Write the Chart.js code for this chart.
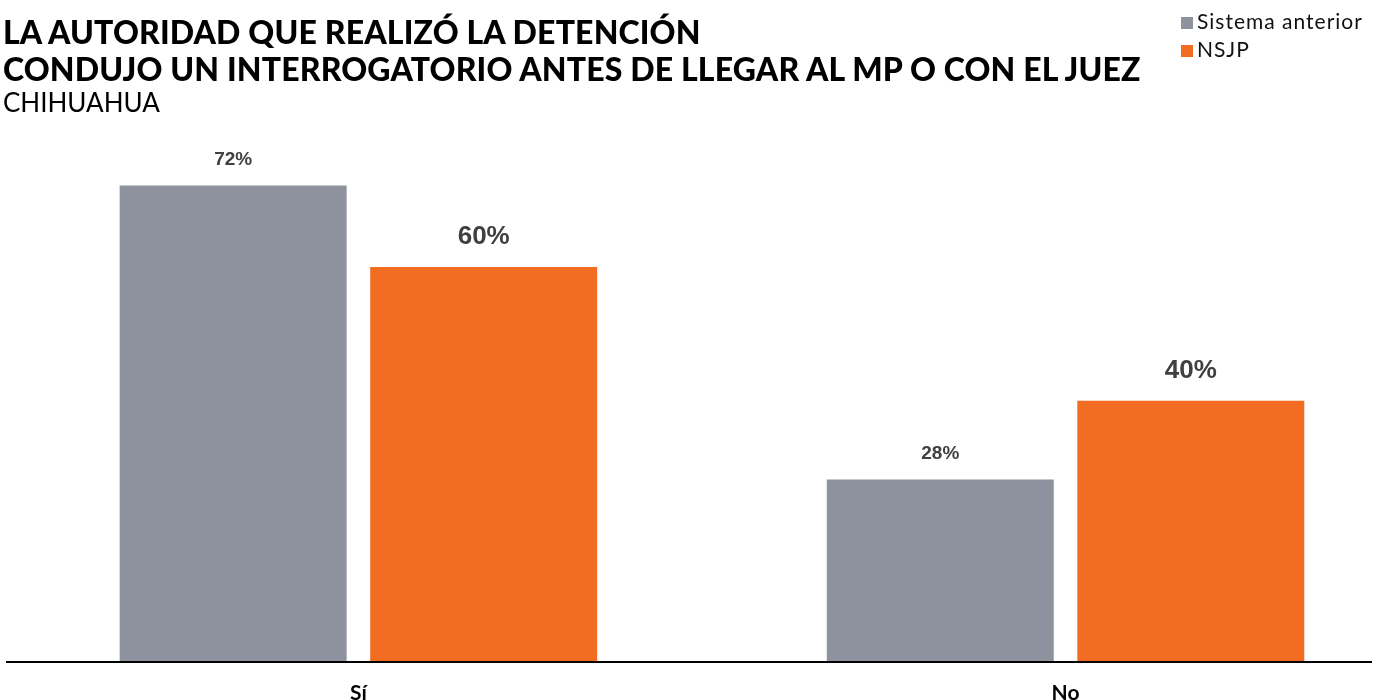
<!DOCTYPE html>
<html>
<head>
<meta charset="utf-8">
<script src="https://cdn.jsdelivr.net/npm/chart.js@4.4.1/dist/chart.umd.min.js"></script>
<style>
  html, body { margin: 0; padding: 0; background: #fff; overflow: hidden; }
  #wrap { position: relative; width: 1381px; height: 700px; overflow: hidden; }
  #chart { position: absolute; left: 0; top: 0; }
  .title { position: absolute; left: 3px; top: 13px; font-family: Lato, sans-serif; color: #000; }
  .title .main { font-weight: 900; font-size: 32px; line-height: 37px; letter-spacing: 0.15px; }
  .title .sub { font-weight: 400; font-size: 26px; line-height: 30px; }
  .legend { position: absolute; left: 1181px; top: 7px; font-family: Lato, sans-serif; font-size: 21px; color: #111; }
  .legend div { height: 28px; line-height: 28px; white-space: nowrap; letter-spacing: 1px; }
  .legend span { display: inline-block; width: 12px; height: 12px; margin-right: 4px; vertical-align: 0px; }
</style>
</head>
<body>
<div id="wrap">
  <canvas id="chart" width="1381" height="725"></canvas>
  <div class="title">
    <div class="main">LA AUTORIDAD QUE REALIZÓ LA DETENCIÓN<br>CONDUJO UN INTERROGATORIO ANTES DE LLEGAR AL MP O CON EL JUEZ</div>
    <div class="sub">CHIHUAHUA</div>
  </div>
  <div class="legend" id="legend"></div>
</div>
<script>
// data
const categories = ["Sí", "No"];
const seriesNames = ["Sistema anterior", "NSJP"];
const sistemaAnterior = [72.4, 27.7];
const nsjp = [60.0, 39.7];
const colors = ["#8e929e", "#f26c22"];

// legend
const legend = document.getElementById("legend");
seriesNames.forEach((name, i) => {
    const row = document.createElement("div");
    row.innerHTML = `<span style="background:${colors[i]}"></span>${name}`;
    legend.appendChild(row);
});

// percent labels above the bars
const barLabels = {
    id: "barLabels",
    afterDatasetsDraw(chart) {
        const ctx = chart.ctx;
        const sizes = [19, 26];
        const gaps = [21, 23];
        chart.data.datasets.forEach((ds, di) => {
            chart.getDatasetMeta(di).data.forEach((bar, i) => {
                ctx.save();
                ctx.font = `bold ${sizes[di]}px "Liberation Sans", Arial, sans-serif`;
                ctx.fillStyle = "#404040";
                ctx.textAlign = "center";
                ctx.textBaseline = "alphabetic";
                ctx.fillText(Math.round(ds.data[i].y) + "%", bar.x, bar.y - gaps[di]);
                ctx.restore();
            });
        });
    }
};

const toPoints = arr => arr.map((v, i) => ({ x: i, y: v }));

new Chart(document.getElementById("chart"), {
    type: "bar",
    data: {
        datasets: [
            { label: seriesNames[0], data: toPoints(sistemaAnterior), backgroundColor: colors[0] },
            { label: seriesNames[1], data: toPoints(nsjp), backgroundColor: colors[1] }
        ]
    },
    options: {
        responsive: false,
        animation: false,
        categoryPercentage: 0.7086,
        barPercentage: 0.906,
        layout: { padding: { left: 7, right: 10, top: 4, bottom: 0 } },
        plugins: { legend: { display: false }, tooltip: { enabled: false } },
        scales: {
            x: {
                type: "linear",
                offset: false,
                min: -0.497,
                max: 1.432,
                afterBuildTicks: scale => { scale.ticks = categories.map((c, i) => ({ value: i })); },
                ticks: {
                    callback: v => categories[v],
                    font: { family: "Lato", weight: "bold", size: 21 },
                    color: "#000",
                    padding: 19,
                    autoSkip: false,
                    maxRotation: 0
                },
                grid: { display: false, drawTicks: false, offset: false },
                border: { display: true, color: "#000", width: 2, z: 1 }
            },
            y: {
                display: false,
                min: 0,
                max: 100
            }
        }
    },
    plugins: [barLabels]
});
</script>
</body>
</html>
